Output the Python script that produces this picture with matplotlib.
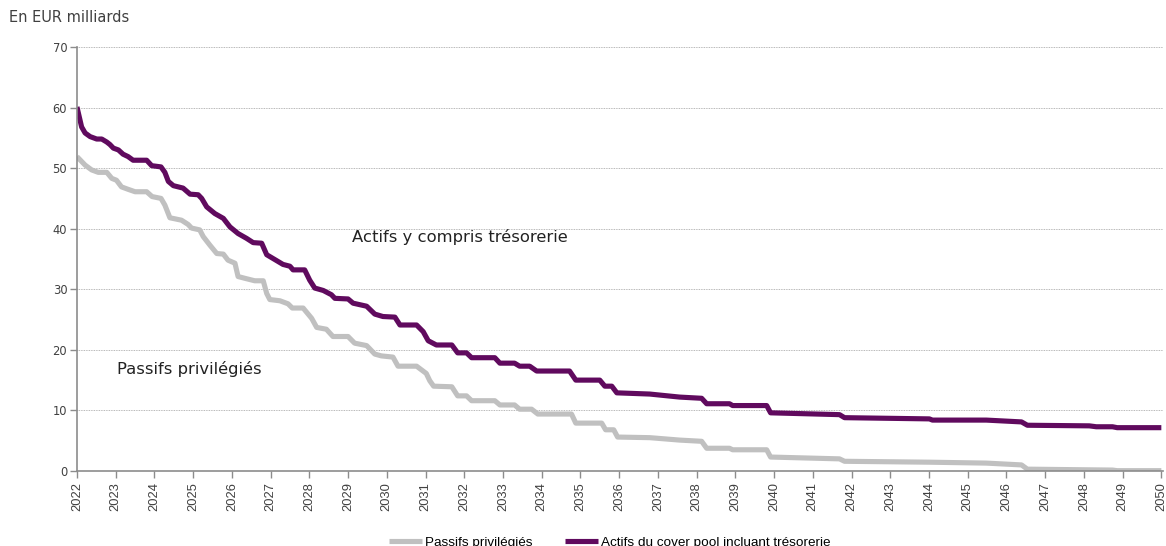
import matplotlib
matplotlib.use("Agg")
import matplotlib.pyplot as plt

# Actifs du cover pool incluant trésorerie (EUR milliards)
actifs_years = [
    2022.00, 2022.12, 2022.21, 2022.34, 2022.51, 2022.64, 2022.77, 2022.85, 2022.94, 2023.07,
    2023.19, 2023.32, 2023.45, 2023.80, 2023.93, 2024.17, 2024.27, 2024.36, 2024.49, 2024.74,
    2024.92, 2025.13, 2025.22, 2025.35, 2025.56, 2025.78, 2025.95, 2026.16, 2026.38, 2026.55,
    2026.77, 2026.90, 2027.11, 2027.32, 2027.50, 2027.58, 2027.88, 2028.01, 2028.14, 2028.36,
    2028.57, 2028.66, 2029.00, 2029.13, 2029.48, 2029.69, 2029.90, 2030.21, 2030.34, 2030.77,
    2030.94, 2031.07, 2031.28, 2031.68, 2031.83, 2032.06, 2032.19, 2032.79, 2032.92, 2033.30,
    2033.43, 2033.69, 2033.87, 2034.72, 2034.88, 2035.50, 2035.63, 2035.81, 2035.94, 2036.79,
    2037.56, 2038.13, 2038.26, 2038.85, 2038.93, 2039.81, 2039.91, 2041.69, 2041.82, 2044.01,
    2044.09, 2045.48, 2046.39, 2046.54, 2048.14, 2048.32, 2048.74, 2048.86, 2050.00,
]
actifs_values = [
    60.1, 56.8, 55.8, 55.2, 54.8, 54.8, 54.3, 53.9, 53.3, 53.0,
    52.3, 51.9, 51.3, 51.3, 50.4, 50.2, 49.3, 47.8, 47.1, 46.7,
    45.7, 45.6, 45.0, 43.6, 42.5, 41.7, 40.3, 39.2, 38.4, 37.7,
    37.6, 35.7, 34.9, 34.1, 33.8, 33.2, 33.2, 31.5, 30.2, 29.8,
    29.1, 28.5, 28.4, 27.7, 27.2, 25.9, 25.5, 25.4, 24.1, 24.1,
    23.0, 21.5, 20.8, 20.8, 19.5, 19.5, 18.7, 18.7, 17.8, 17.8,
    17.3, 17.3, 16.5, 16.5, 15.0, 15.0, 14.0, 14.0, 12.9, 12.7,
    12.2, 12.0, 11.1, 11.1, 10.8, 10.8, 9.6, 9.3, 8.8, 8.6,
    8.4, 8.4, 8.1, 7.55, 7.45, 7.3, 7.3, 7.15, 7.15,
]

# Passifs privilégiés (EUR milliards)
passifs_years = [
    2022.00, 2022.21, 2022.38, 2022.55, 2022.77, 2022.90, 2023.02, 2023.15, 2023.32, 2023.50,
    2023.80, 2023.94, 2024.17, 2024.27, 2024.40, 2024.70, 2024.87, 2024.96, 2025.17, 2025.26,
    2025.43, 2025.61, 2025.78, 2025.90, 2026.08, 2026.16, 2026.34, 2026.59, 2026.81, 2026.90,
    2026.98, 2027.24, 2027.45, 2027.56, 2027.84, 2028.06, 2028.19, 2028.44, 2028.61, 2029.00,
    2029.17, 2029.48, 2029.69, 2029.86, 2030.16, 2030.29, 2030.77, 2031.02, 2031.11, 2031.21,
    2031.68, 2031.83, 2032.06, 2032.19, 2032.79, 2032.92, 2033.30, 2033.43, 2033.74, 2033.90,
    2034.77, 2034.88, 2035.55, 2035.65, 2035.86, 2035.96, 2036.79, 2037.56, 2038.13, 2038.26,
    2038.85, 2038.93, 2039.81, 2039.91, 2041.69, 2041.82, 2044.01, 2045.48, 2046.39, 2046.54,
    2048.74, 2048.86, 2050.00,
]
passifs_values = [
    51.9, 50.5, 49.7, 49.3, 49.3, 48.3, 48.0, 46.9, 46.5, 46.1,
    46.1, 45.3, 45.0, 43.9, 41.8, 41.4, 40.7, 40.1, 39.8, 38.7,
    37.3, 35.9, 35.8, 34.8, 34.3, 32.1, 31.8, 31.4, 31.4, 29.3,
    28.3, 28.1, 27.6, 26.9, 26.9, 25.2, 23.7, 23.4, 22.2, 22.2,
    21.1, 20.7, 19.3, 19.0, 18.8, 17.3, 17.3, 16.1, 14.9, 14.0,
    13.9, 12.4, 12.4, 11.6, 11.6, 10.9, 10.9, 10.2, 10.2, 9.4,
    9.4, 7.9, 7.9, 6.8, 6.8, 5.6, 5.5, 5.1, 4.9, 3.75,
    3.75, 3.5, 3.5, 2.3, 2.0, 1.6, 1.45, 1.3, 1.0, 0.3,
    0.15, 0.05, 0.05,
]

year_ticks = list(range(2022, 2051))
value_ticks = [0, 10, 20, 30, 40, 50, 60, 70]

PURPLE = "#600a5e"
GREY = "#c0c0c0"
AXIS_GREY = "#8c8c8c"
TEXT = "#404040"

fig = plt.figure(figsize=(11.66, 5.46), dpi=100)
ax = fig.add_axes([0.066, 0.1374, 0.9310, 0.7766])

ax.plot(passifs_years, passifs_values, color=GREY, lw=3.7,
        solid_joinstyle="round", solid_capstyle="butt", label="Passifs privilégiés")
ax.plot(actifs_years, actifs_values, color=PURPLE, lw=3.7,
        solid_joinstyle="round", solid_capstyle="butt",
        label="Actifs du cover pool incluant trésorerie")

ax.set_xlim(2022, 2050.03)
ax.set_ylim(0, 70)
ax.set_xticks(year_ticks)
ax.set_xticklabels([str(y) for y in year_ticks], rotation=90,
                   fontfamily="Liberation Sans", fontsize=9.3, color=TEXT)
ax.set_yticks(value_ticks)
ax.set_yticklabels([str(v) for v in value_ticks], fontsize=8.3, color=TEXT)

for v in value_ticks[1:]:
    ax.axhline(v, color="#a0a0a0", lw=0.6, ls=(0, (1, 1)), zorder=0)

for side in ("top", "right"):
    ax.spines[side].set_visible(False)
for side in ("left", "bottom"):
    ax.spines[side].set_color(AXIS_GREY)
    ax.spines[side].set_linewidth(1.2)
ax.tick_params(axis="both", direction="out", color=AXIS_GREY, width=1.0, length=5)
ax.tick_params(axis="y", pad=2)
ax.tick_params(axis="x", pad=3)

fig.text(0.008, 0.968, "En EUR milliards", fontsize=10.5, color=TEXT, va="center")
ax.text(2029.1, 38.6, "Actifs y compris trésorerie", fontsize=11.8, color="#222222", va="center")
ax.text(2023.03, 16.8, "Passifs privilégiés", fontsize=11.8, color="#222222", va="center")

fig.legend(loc="center", bbox_to_anchor=(0.523, 0.006), ncol=2, frameon=False,
           prop={"family": "Liberation Sans", "size": 9.7},
           handlelength=2.45, handletextpad=0.22, columnspacing=2.45)

fig.savefig("out.png", dpi=100)
